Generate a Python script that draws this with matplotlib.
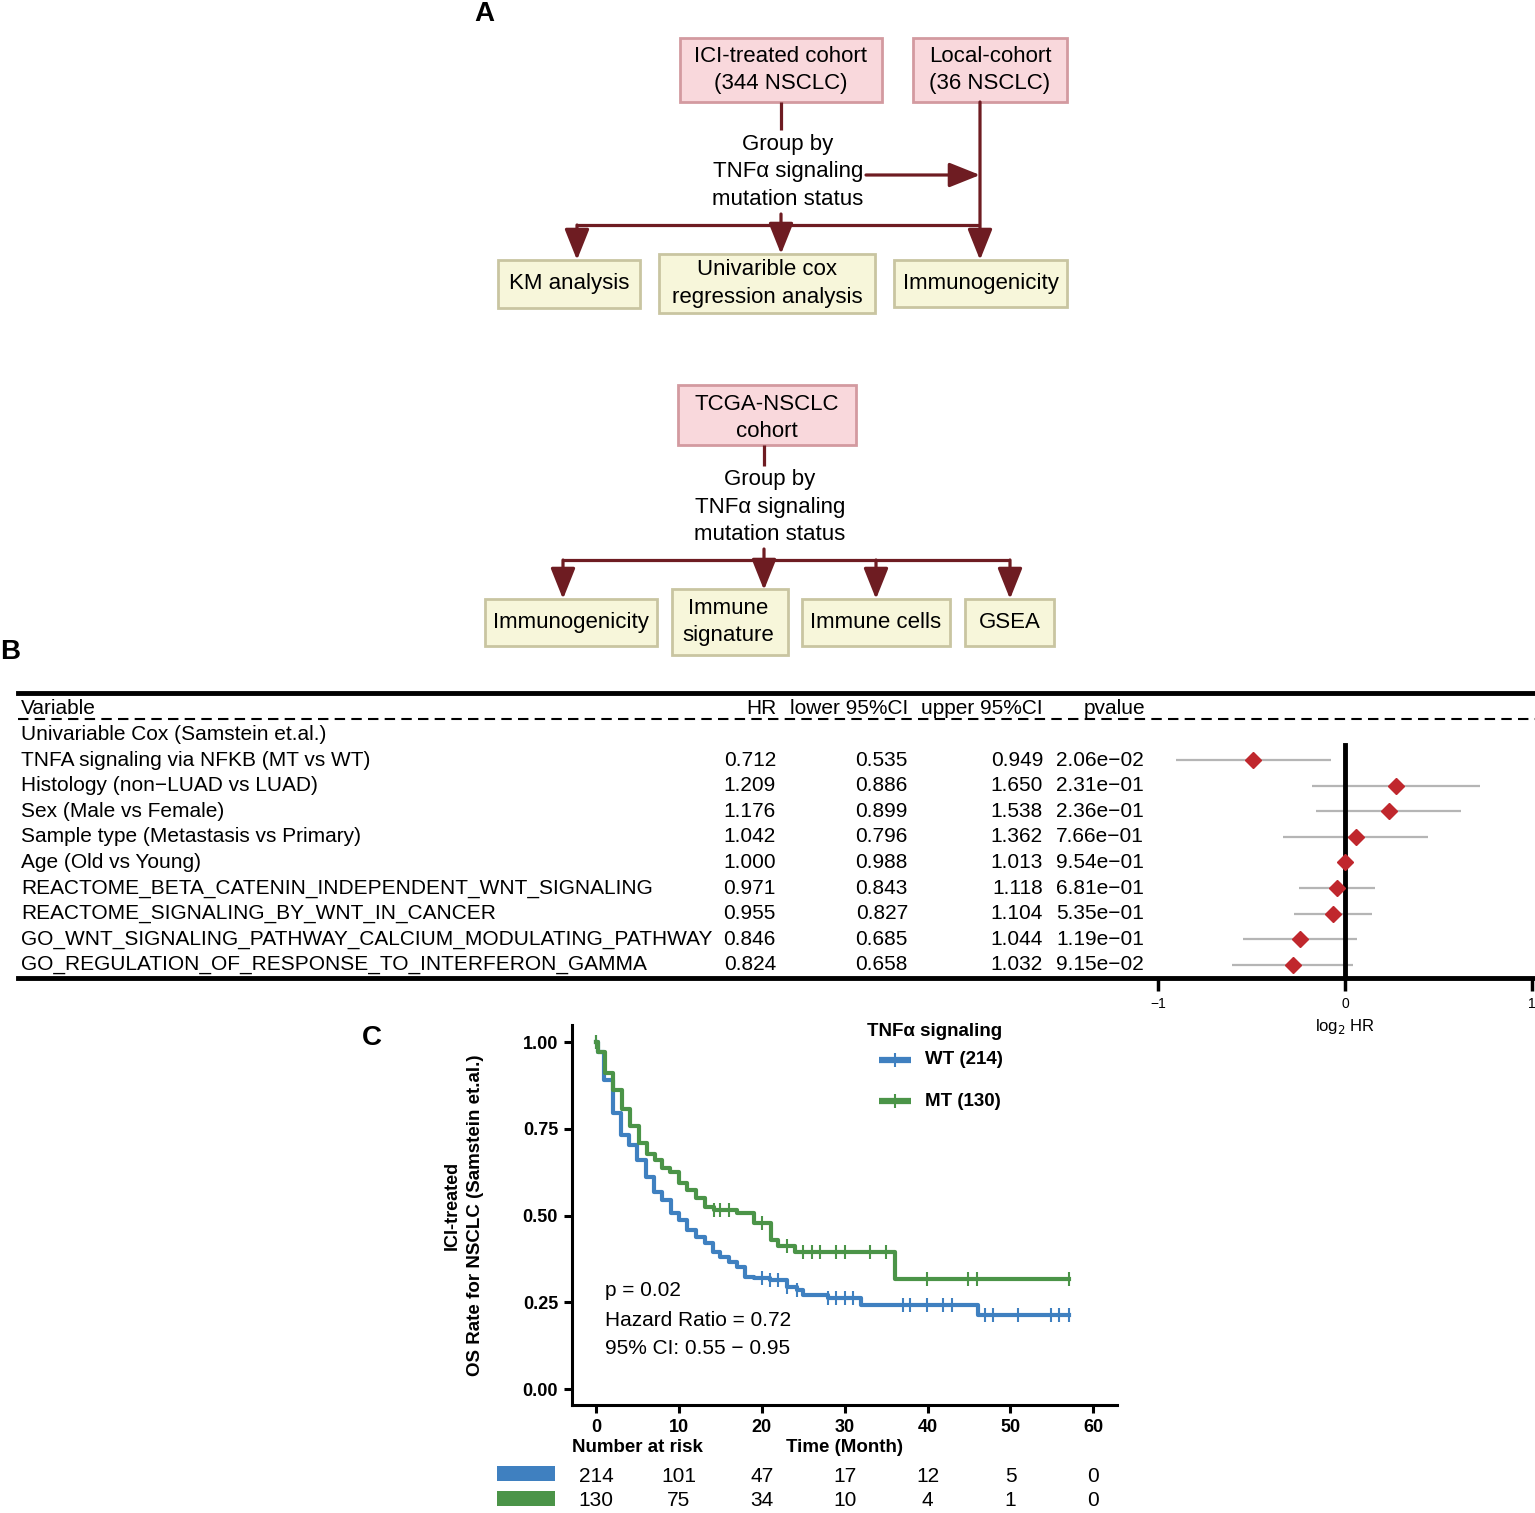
import numpy as np
import matplotlib
matplotlib.use('Agg')
import matplotlib.pyplot as plt
from matplotlib.patches import Rectangle
from matplotlib.transforms import blended_transform_factory

plt.rcParams['font.family'] = ['Liberation Sans', 'DejaVu Sans']

# ---- panel B data: univariable cox
variables = ['TNFA signaling via NFKB (MT vs WT)',
             'Histology (non\u2212LUAD vs LUAD)',
             'Sex (Male vs Female)',
             'Sample type (Metastasis vs Primary)',
             'Age (Old vs Young)',
             'REACTOME_BETA_CATENIN_INDEPENDENT_WNT_SIGNALING',
             'REACTOME_SIGNALING_BY_WNT_IN_CANCER',
             'GO_WNT_SIGNALING_PATHWAY_CALCIUM_MODULATING_PATHWAY',
             'GO_REGULATION_OF_RESPONSE_TO_INTERFERON_GAMMA']
hr = [0.712, 1.209, 1.176, 1.042, 1.000, 0.971, 0.955, 0.846, 0.824]
lower = [0.535, 0.886, 0.899, 0.796, 0.988, 0.843, 0.827, 0.685, 0.658]
upper = [0.949, 1.650, 1.538, 1.362, 1.013, 1.118, 1.104, 1.044, 1.032]
pvalue = [2.06e-02, 2.31e-01, 2.36e-01, 7.66e-01, 9.54e-01, 6.81e-01, 5.35e-01, 1.19e-01, 9.15e-02]

# ---- panel C data: KM steps (time in months, survival after step)
wt_time = [0, 0.2, 1.0, 2.0, 3.0, 4.0, 5.0, 6.0, 7.0, 8.0, 9.0, 10.0, 11.0, 12.1,
           13.1, 14.1, 15.0, 16.1, 17.0, 18.0, 19.0, 21.0, 23.0, 24.2, 25.0, 28.0,
           32.0, 46.1]
wt_surv = [1.0, 0.97, 0.890, 0.794, 0.732, 0.703, 0.660, 0.612, 0.569, 0.545, 0.508,
           0.487, 0.458, 0.439, 0.420, 0.396, 0.381, 0.367, 0.352, 0.324, 0.319, 0.314,
           0.295, 0.285, 0.271, 0.261, 0.242, 0.213]
wt_censor = [0, 20.0, 21.0, 22.0, 23.0, 24.2, 28.0, 29.0, 30.0, 31.0, 37.0, 37.9,
             39.9, 41.9, 42.9, 46.9, 47.9, 50.9, 54.9, 55.9, 57.0]
mt_time = [0, 0.2, 1.1, 2.1, 3.1, 4.1, 5.2, 6.1, 7.1, 7.9, 8.9, 10.0, 11.0, 12.1,
           13.1, 14.2, 17.0, 19.0, 21.1, 22.0, 24.0, 36.1]
mt_surv = [1.0, 0.972, 0.910, 0.862, 0.807, 0.758, 0.708, 0.677, 0.660, 0.638, 0.626,
           0.593, 0.573, 0.550, 0.525, 0.516, 0.506, 0.479, 0.429, 0.412, 0.396, 0.316]
mt_censor = [0, 14.2, 15.0, 16.0, 20.0, 23.0, 25.0, 26.0, 27.0, 29.0, 30.0, 33.0,
             35.0, 39.9, 44.9, 45.9, 57.0]
t_end = 57.0
risk_times = [0, 10, 20, 30, 40, 50, 60]
wt_risk = [214, 101, 47, 17, 12, 5, 0]
mt_risk = [130, 75, 34, 10, 4, 1, 0]

W, H = 1535, 1513
RED = '#6e1c22'
PINK_FC, PINK_EC = '#f9d8dc', '#d39aa0'
CREAM_FC, CREAM_EC = '#f7f6da', '#c9c5a1'
BLUE = '#3f80c0'
GREEN = '#4b9448'

fig = plt.figure(figsize=(W / 100, H / 100), dpi=100)
ov = fig.add_axes([0, 0, 1, 1])
ov.set_xlim(0, W)
ov.set_ylim(H, 0)
ov.axis('off')


def px_axes(l, t, r, b):
    return fig.add_axes([l / W, 1 - b / H, (r - l) / W, (b - t) / H])


def box(l, t, r, b, fc, ec, text, cx=None, cy=None):
    ov.add_patch(Rectangle((l, t), r - l, b - t, fc=fc, ec=ec, lw=2))
    cx = (l + r) / 2 if cx is None else cx
    cy = (t + b) / 2 if cy is None else cy
    ov.text(cx, cy, text, ha='center', va='center', fontsize=16, linespacing=1.4)


def line(xs, ys):
    ov.plot(xs, ys, color=RED, lw=2.3, solid_capstyle='butt')


def arrow(x0, y0, x1, y1):
    ov.annotate('', xy=(x1, y1), xytext=(x0, y0),
                arrowprops=dict(arrowstyle='-|>,head_length=1.0,head_width=0.4',
                                color=RED, lw=2.3, shrinkA=0, shrinkB=0,
                                mutation_scale=19))


# ---- panel A, top flowchart
ov.text(484, 14, 'A', fontsize=20, fontweight='bold', ha='center', va='center')
box(680, 38, 882, 102, PINK_FC, PINK_EC, 'ICI-treated cohort\n(344 NSCLC)')
box(913, 38, 1067, 102, PINK_FC, PINK_EC, 'Local-cohort\n(36 NSCLC)')
line([781, 781], [102, 130])
ov.text(788, 172, 'Group by\nTNF\u03b1 signaling\nmutation status', ha='center',
        va='center', fontsize=16, linespacing=1.4)
arrow(866, 175, 980, 175)
line([577, 980], [225, 225])
arrow(980, 102, 980, 260)
arrow(577, 225, 577, 260)
arrow(781, 214, 781, 254)
box(498, 260, 640, 308, CREAM_FC, CREAM_EC, 'KM analysis')
box(659, 254, 875, 313, CREAM_FC, CREAM_EC, 'Univarible cox\nregression analysis')
box(894, 260, 1067, 307, CREAM_FC, CREAM_EC, 'Immunogenicity')

# ---- panel A, bottom flowchart
box(678, 385, 856, 445, PINK_FC, PINK_EC, 'TCGA-NSCLC\ncohort', cy=418)
line([764, 764], [445, 466])
ov.text(770, 507, 'Group by\nTNF\u03b1 signaling\nmutation status', ha='center',
        va='center', fontsize=16, linespacing=1.4)
line([563, 1010], [560, 560])
arrow(764, 549, 764, 590)
for x in [563, 876, 1010]:
    arrow(x, 560, x, 599)
box(485, 599, 657, 646, CREAM_FC, CREAM_EC, 'Immunogenicity')
box(672, 589, 788, 655, CREAM_FC, CREAM_EC, 'Immune\nsignature', cx=728)
box(802, 599, 950, 646, CREAM_FC, CREAM_EC, 'Immune cells')
box(965, 599, 1054, 646, CREAM_FC, CREAM_EC, 'GSEA')

# ---- panel B table
ov.text(10, 652, 'B', fontsize=20, fontweight='bold', ha='center', va='center')
ov.plot([18, W], [693, 693], color='black', lw=3.5)
ov.plot([18, W], [719, 719], color='black', lw=1.5, ls=(0, (5, 3)))
ov.plot([18, W], [978, 978], color='black', lw=3.5)
fs = 15
ov.text(21, 708, 'Variable', fontsize=fs, va='center')
ov.text(776, 708, 'HR', fontsize=fs, va='center', ha='right')
ov.text(908, 708, 'lower 95%CI', fontsize=fs, va='center', ha='right')
ov.text(1043, 708, 'upper 95%CI', fontsize=fs, va='center', ha='right')
ov.text(1084, 708, 'pvalue', fontsize=fs, va='center')
ov.text(21, 734, 'Univariable Cox (Samstein et.al.)', fontsize=fs, va='center')
row0, drow = 760, 25.6
for i, name in enumerate(variables):
    y = row0 + drow * i
    ov.text(21, y, name, fontsize=fs, va='center')
    ov.text(776, y, f'{hr[i]:.3f}', fontsize=fs, va='center', ha='right')
    ov.text(908, y, f'{lower[i]:.3f}', fontsize=fs, va='center', ha='right')
    ov.text(1043, y, f'{upper[i]:.3f}', fontsize=fs, va='center', ha='right')
    ov.text(1056, y, f'{pvalue[i]:.2e}'.replace('-', '\u2212'), fontsize=fs, va='center')

# forest
fa = px_axes(1158, 734, 1532, 978)
fa.set_xlim(-1, 1)
fa.set_ylim((978 - row0) / drow, (734 - row0) / drow)
fa.patch.set_visible(False)
for s in fa.spines.values():
    s.set_visible(False)
rows = np.arange(len(hr))
fa.hlines(rows, np.log2(lower), np.log2(upper), color='#b5b5b5', lw=1.6, zorder=2)
fa.axvline(0, ymin=0, ymax=(978 - 745) / (978 - 734), color='black', lw=3.5, zorder=3)
fa.plot(np.log2(hr), rows, 'D', color='#c0272d', ms=8, zorder=4, clip_on=False)
fa.set_yticks([])
fa.set_xticks([-1, 0, 1])
fa.set_xticklabels(['\u22121', '0', '1'], fontsize=10)
fa.tick_params(axis='x', direction='out', length=9, width=2.5, pad=5)
fa.set_xlabel('log$_2$ HR', fontsize=12, labelpad=4)

# ---- panel C KM
ov.text(372, 1038, 'C', fontsize=20, fontweight='bold', ha='center', va='center')
ax = px_axes(572, 1025, 1117, 1405)
ax.patch.set_visible(False)
for t, s, c, col in [(wt_time, wt_surv, wt_censor, BLUE), (mt_time, mt_surv, mt_censor, GREEN)]:
    tt = np.append(t, t_end)
    ss = np.append(s, s[-1])
    ax.step(tt, ss, where='post', color=col, lw=3.0)
    idx = np.searchsorted(t, c, side='right') - 1
    ax.plot(c, np.array(s)[idx], '|', color=col, ms=10, mew=1.5)
ax.set_xlim(-2.9, 62.85)
ax.set_ylim(-0.046, 1.049)
ax.set_xticks(risk_times)
ax.set_yticks([0, 0.25, 0.5, 0.75, 1.0])
ax.set_yticklabels(['0.00', '0.25', '0.50', '0.75', '1.00'])
for lab in ax.get_xticklabels() + ax.get_yticklabels():
    lab.set_fontweight('bold')
    lab.set_fontsize(13)
ax.spines['top'].set_visible(False)
ax.spines['right'].set_visible(False)
ax.spines['left'].set_linewidth(2.2)
ax.spines['bottom'].set_linewidth(2.2)
ax.tick_params(direction='out', length=6, width=2.2, pad=4)

ov.text(605, 1291, 'p = 0.02', fontsize=15, va='center')
ov.text(605, 1320, 'Hazard Ratio = 0.72', fontsize=15, va='center')
ov.text(605, 1349, '95% CI: 0.55 \u2212 0.95', fontsize=15, va='center')

ov.text(452, 1205, 'ICI-treated', rotation=90, fontsize=13, fontweight='bold',
        ha='center', va='center')
ov.text(476, 1215, 'OS Rate for NSCLC (Samstein et.al.)', rotation=90, fontsize=13.5,
        fontweight='bold', ha='center', va='center')

# legend
ov.text(867, 1031, 'TNF\u03b1 signaling', fontsize=13.5, fontweight='bold', va='center')
for y, col, lab in [(1060, BLUE, 'WT (214)'), (1101, GREEN, 'MT (130)')]:
    ov.plot([879, 911], [y, y], color=col, lw=4.5, solid_capstyle='butt')
    ov.plot([895], [y], '|', color=col, ms=10, mew=1.5)
    ov.text(925, y, lab, fontsize=13.5, fontweight='bold', va='center')

# risk table
ov.text(572, 1448, 'Number at risk', fontsize=13.5, fontweight='bold', va='center')
ov.text(845, 1448, 'Time (Month)', fontsize=13.5, fontweight='bold', va='center', ha='center')
mix = blended_transform_factory(ax.transData, ov.transData)
ov.add_patch(Rectangle((497, 1466), 58, 15, fc=BLUE, ec='none'))
ov.add_patch(Rectangle((497, 1491), 58, 15, fc=GREEN, ec='none'))
for x, a, b in zip(risk_times, wt_risk, mt_risk):
    ov.text(x, 1477, str(a), transform=mix, fontsize=15, ha='center', va='center')
    ov.text(x, 1501, str(b), transform=mix, fontsize=15, ha='center', va='center')

fig.savefig('out.png', dpi=100)
